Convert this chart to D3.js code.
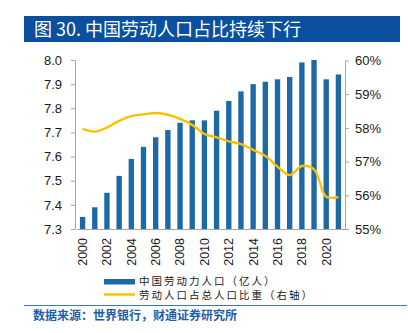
<!DOCTYPE html>
<html>
<head>
<meta charset="utf-8">
<script src="https://cdn.jsdelivr.net/npm/d3@7"></script>
<style>
  body { margin: 0; background: #fff; }
  svg { display: block; font-family: "Liberation Sans", Arial, sans-serif; }
</style>
</head>
<body>
<div id="chart"></div>
<script>
// labour force (100 million people) and its share of total population (%)
var years = [2000, 2001, 2002, 2003, 2004, 2005, 2006, 2007, 2008, 2009, 2010,
             2011, 2012, 2013, 2014, 2015, 2016, 2017, 2018, 2019, 2020, 2021];
var labour = [7.35, 7.39, 7.45, 7.52, 7.59, 7.64, 7.68, 7.71, 7.74, 7.75, 7.75,
              7.79, 7.83, 7.87, 7.90, 7.91, 7.92, 7.93, 7.99, 8.00, 7.92, 7.94];
var share = [57.97, 57.89, 58.01, 58.21, 58.35, 58.40, 58.44, 58.39, 58.27, 58.09, 57.82,
             57.72, 57.60, 57.52, 57.35, 57.17, 56.85, 56.60, 56.87, 56.77, 55.96, 55.95];
var leftTicks = [7.3, 7.4, 7.5, 7.6, 7.7, 7.8, 7.9, 8.0];
var rightTicks = [55, 56, 57, 58, 59, 60];
var legendLabels = ["中国劳动力人口（亿人）", "劳动人口占总人口比重（右轴）"];

var W = 408, H = 333;
var svg = d3.select("#chart").append("svg")
    .attr("width", W)
    .attr("height", H);

// title bar
svg.append("rect")
    .attr("x", 24).attr("y", 16)
    .attr("width", 376).attr("height", 26)
    .attr("fill", "#0b4f9f");
svg.append("text")
    .attr("x", 34).attr("y", 36)
    .attr("fill", "#fff")
    .style("font-family", "'Noto Sans CJK SC', sans-serif")
    .style("font-size", "18px")
    .text("图 30. 中国劳动人口占比持续下行");

// scales
var x = d3.scaleBand()
    .domain(years)
    .range([76.5, 344.5])
    .paddingInner(0.56)
    .paddingOuter(0.28);

var yL = d3.scaleLinear().domain([7.3, 8.0]).range([229, 60]);
var yR = d3.scaleLinear().domain([55, 60]).range([229, 60.5]);

// bars
svg.append("g")
    .selectAll("rect")
    .data(years)
    .enter()
    .append("rect")
        .attr("x", function (d) { return x(d); })
        .attr("y", function (d, i) { return yL(labour[i]); })
        .attr("width", x.bandwidth())
        .attr("height", function (d, i) { return yL(7.3) - yL(labour[i]); })
        .attr("fill", "#1d69a6");

// share line, smoothed
var line = d3.line()
    .x(function (d, i) { return x(years[i]) + x.bandwidth() / 2; })
    .y(function (d) { return yR(d); })
    .curve(d3.curveCatmullRom);

svg.append("path")
    .datum(share)
    .attr("d", line)
    .attr("fill", "none")
    .attr("stroke", "#ffbf00")
    .attr("stroke-width", 2.4);

// left axis
var gL = svg.append("g")
    .attr("transform", "translate(75,0)")
    .call(d3.axisLeft(yL).tickValues(leftTicks).tickFormat(d3.format(".1f")).tickSizeInner(4).tickSizeOuter(0).tickPadding(9));

// right axis
var gR = svg.append("g")
    .attr("transform", "translate(345,0)")
    .call(d3.axisRight(yR).tickValues(rightTicks).tickFormat(function (d) { return d + "%"; }).tickSizeInner(4).tickSizeOuter(0).tickPadding(6));

// bottom axis, every other year
var gB = svg.append("g")
    .attr("transform", "translate(0,229)")
    .call(d3.axisBottom(x).tickValues(years.filter(function (d) { return d % 2 === 0; })).tickSize(0).tickPadding(0));
gB.selectAll("text")
    .attr("transform", "rotate(-90)")
    .attr("x", -9)
    .attr("y", 0)
    .attr("dy", "0.35em")
    .style("text-anchor", "end");

[gL, gR, gB].forEach(function (g) {
    g.select(".domain").attr("stroke", "#a6a6a6");
    g.selectAll(".tick line").attr("stroke", "#a6a6a6");
    g.selectAll("text")
        .attr("fill", "#1a1a1a")
        .style("font-family", "'Liberation Sans', Arial, sans-serif")
        .style("font-size", "13px");
});
gB.selectAll("text").style("font-size", "12.5px");

// legend
var legend = svg.append("g")
    .style("font-family", "'Noto Sans CJK SC', sans-serif")
    .style("font-size", "10.5px");
legend.append("rect")
    .attr("x", 104).attr("y", 279)
    .attr("width", 31).attr("height", 5.5)
    .attr("fill", "#1d69a6");
legend.append("line")
    .attr("x1", 104).attr("x2", 135)
    .attr("y1", 294.5).attr("y2", 294.5)
    .attr("stroke", "#ffbf00")
    .attr("stroke-width", 2.4);
legend.selectAll("text")
    .data(legendLabels)
    .enter()
    .append("text")
        .attr("x", 139)
        .attr("y", function (d, i) { return 281 + i * 14; })
        .attr("dy", "0.35em")
        .attr("fill", "#222")
        .style("letter-spacing", "2px")
        .text(function (d) { return d; });

// source line
svg.append("line")
    .attr("x1", 24).attr("x2", 407)
    .attr("y1", 305.5).attr("y2", 305.5)
    .attr("stroke", "#3a78c0")
    .attr("stroke-width", 1.2);
svg.append("text")
    .attr("x", 33).attr("y", 320)
    .attr("fill", "#1f5fa8")
    .style("font-family", "'Noto Sans CJK SC', sans-serif")
    .style("font-size", "12px")
    .style("font-weight", "bold")
    .text("数据来源：世界银行，财通证券研究所");
</script>
</body>
</html>
